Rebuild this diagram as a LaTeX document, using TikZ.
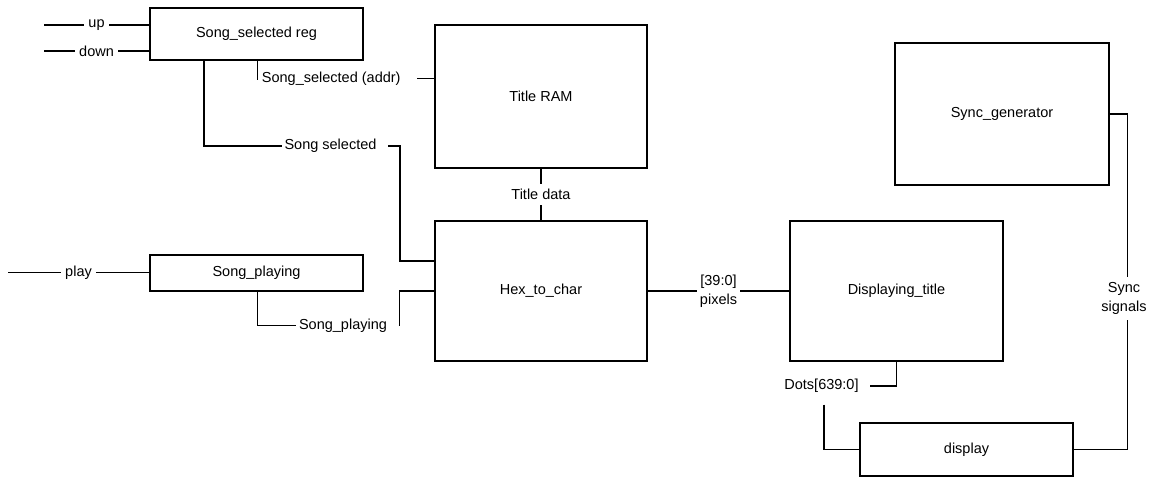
\documentclass[tikz,border=0pt]{standalone}
\usepackage{fontspec}
\setmainfont{Liberation Sans}
\begin{document}
\begin{tikzpicture}[x=1pt,y=-1pt,line width=1.9pt,
  every node/.style={font=\fontsize{14.5}{19}\selectfont},
  blk/.style={draw, inner sep=0pt},
  lab/.style={fill=white, inner xsep=4pt, inner ysep=3pt, align=center}]
\useasboundingbox (0,0) rectangle (1151,477);
% blocks
\node[blk, minimum width=213pt, minimum height=52pt] (reg) at (256.5,34) {Song\_selected reg};
\node[blk, minimum width=212pt, minimum height=143pt] (ram) at (541,96.5) {Title RAM};
\node[blk, minimum width=212pt, minimum height=140pt] (hex) at (541,291) {Hex\_to\_char};
\node[blk, minimum width=213pt, minimum height=36pt] (play) at (256.5,273) {Song\_playing};
\node[blk, minimum width=213pt, minimum height=140pt] (disp) at (896.5,291) {Displaying\_title};
\node[blk, minimum width=214pt, minimum height=142pt] (sync) at (1002,114) {Sync\_generator};
\node[blk, minimum width=213pt, minimum height=53pt] (display) at (966.5,449.5) {display};
% inputs
\coordinate (upin) at (44,25);
\coordinate (downin) at (44,51);
\coordinate (playin) at (8,272.5);
\draw (upin) -- node[lab]{up} (upin -| reg.west);
\draw (downin) -- node[lab]{down} (downin -| reg.west);
\draw (playin) -- node[lab]{play} (playin -| play.west);
% Song_selected (addr)
\coordinate (addrc) at (257.5,80);
\node[lab, anchor=west, inner xsep=1.5pt] (addrlab) at (259.5,78.5) {Song\_selected (addr)};
\draw (addrc |- reg.south) -- (addrc);
\draw ([xshift=14pt]addrlab.east) -- (addrlab.east -| ram.west);
% Song selected
\coordinate (ssc) at (204,146);
\node[lab, inner xsep=2pt] (sslab) at (330.5,146) {Song selected};
\draw (ssc |- reg.south) -- (ssc) -- (sslab.west);
\coordinate (j1) at (400,261);
\draw ([xshift=9pt]sslab.east) -| (j1) -- (j1 -| hex.west);
% Song_playing
\coordinate (spc) at (257.5,325.5);
\node[lab, inner xsep=2pt] (splab) at (343,325.5) {Song\_playing};
\draw (spc |- play.south) -- (spc) -- (splab.west);
\coordinate (j2) at (399.5,291);
\draw ([xshift=9pt]splab.east) -| (j2) -- (j2 -| hex.west);
% Title data
\draw (ram.south) -- node[lab, inner ysep=5pt]{Title data} (hex.north);
% pixels
\draw (hex.east) -- node[lab, inner xsep=3pt]{[39:0]\\pixels} (disp.west);
% Dots
\node[lab, inner xsep=2pt] (dotslab) at (821.5,386) {Dots[639:0]};
\draw (disp.south) |- ([xshift=8pt]dotslab.east);
\draw ([xshift=2.5pt,yshift=-8pt]dotslab.south) |- (display.west);
% Sync
\coordinate (sx) at (1127.5,300);
\draw (display.east) -| (sx) |- (sync.east);
\node[lab, inner ysep=5pt] (synclab) at (1124,298.5) {Sync\\signals};
\end{tikzpicture}
\end{document}
